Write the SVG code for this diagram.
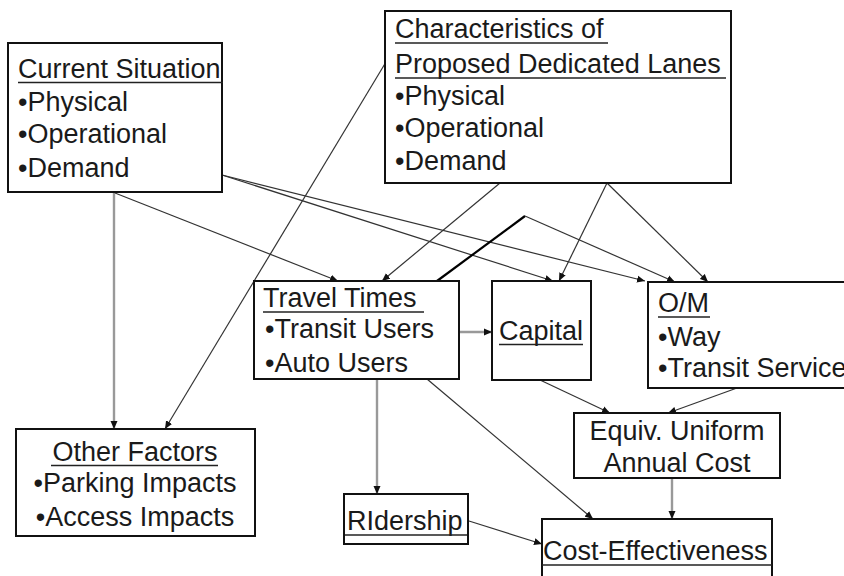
<svg xmlns="http://www.w3.org/2000/svg" width="844" height="576" viewBox="0 0 844 576">
<style>
text{font-family:"Liberation Sans",Arial,sans-serif;font-size:27px;fill:#1a1a1a}
.box{fill:#fff;stroke:#111;stroke-width:2}
.ul{stroke:#222;stroke-width:1.6}
.c{fill:none;stroke:#333;stroke-width:1.2}
.g{fill:none;stroke:#999;stroke-width:2.4}
.mid{text-anchor:middle}
</style>
<defs>
<marker id="ah" viewBox="0 0 8 8" refX="8" refY="4" markerWidth="8" markerHeight="8" orient="auto" markerUnits="userSpaceOnUse"><path d="M0,0.5 L8,4 L0,7.5 z" fill="#111"/></marker>
</defs>
<g id="connectors">
<line class="g" x1="114" y1="192" x2="114" y2="429" marker-end="url(#ah)"/>
<line class="c" x1="386" y1="62" x2="165" y2="429" marker-end="url(#ah)"/>
<line class="c" x1="115" y1="193" x2="338" y2="281" marker-end="url(#ah)"/>
<line class="c" x1="222" y1="175" x2="553" y2="281" marker-end="url(#ah)"/>
<line class="c" x1="222" y1="175" x2="645" y2="281" marker-end="url(#ah)"/>
<line class="c" x1="500" y1="183" x2="382" y2="281" marker-end="url(#ah)"/>
<line class="c" x1="607" y1="183" x2="559" y2="281" marker-end="url(#ah)"/>
<line class="c" x1="607" y1="183" x2="708" y2="282" marker-end="url(#ah)"/>
<line x1="437" y1="281" x2="525" y2="216" stroke="#000" stroke-width="2.2"/>
<line class="c" x1="525" y1="216" x2="675" y2="282" marker-end="url(#ah)"/>
<line class="g" x1="459" y1="332" x2="492" y2="332" marker-end="url(#ah)"/>
<line class="g" x1="377" y1="379" x2="377" y2="494" marker-end="url(#ah)"/>
<line class="c" x1="427" y1="379" x2="593" y2="519" marker-end="url(#ah)"/>
<line class="c" x1="469" y1="521" x2="542" y2="544" marker-end="url(#ah)"/>
<line class="c" x1="540" y1="380" x2="610" y2="413" marker-end="url(#ah)"/>
<line class="c" x1="737" y1="388" x2="668" y2="413" marker-end="url(#ah)"/>
<line class="g" x1="672" y1="478" x2="672" y2="519" marker-end="url(#ah)"/>
</g>
<g id="current">
<rect class="box" x="8" y="43" width="214" height="149"/>
<text x="18" y="78">Current Situation</text>
<line class="ul" x1="18" y1="82.5" x2="223" y2="82.5"/>
<text x="18" y="111">•Physical</text>
<text x="18" y="143">•Operational</text>
<text x="18" y="177">•Demand</text>
</g>
<g id="characteristics">
<rect class="box" x="385" y="11" width="346" height="172"/>
<text x="395" y="38">Characteristics of</text>
<line class="ul" x1="395" y1="43" x2="608" y2="43"/>
<text x="395" y="73">Proposed Dedicated Lanes</text>
<line class="ul" x1="395" y1="78" x2="726" y2="78"/>
<text x="395" y="105">•Physical</text>
<text x="395" y="137">•Operational</text>
<text x="395" y="170">•Demand</text>
</g>
<g id="travel">
<rect class="box" x="254" y="281" width="205" height="98"/>
<text x="263" y="307">Travel Times</text>
<line class="ul" x1="263" y1="312" x2="424" y2="312"/>
<text x="265" y="338">•Transit Users</text>
<text x="265" y="372">•Auto Users</text>
</g>
<g id="capital">
<rect class="box" x="492" y="281" width="99" height="99"/>
<text x="499" y="340">Capital</text>
<line class="ul" x1="499" y1="344.5" x2="583" y2="344.5"/>
</g>
<g id="om">
<rect class="box" x="648" y="282" width="210" height="106"/>
<text x="658" y="312">O/M</text>
<line class="ul" x1="658" y1="317" x2="710" y2="317"/>
<text x="658" y="346">•Way</text>
<text x="658" y="377">•Transit Service</text>
</g>
<g id="other">
<rect class="box" x="16" y="429" width="239" height="107"/>
<text class="mid" x="135" y="461">Other Factors</text>
<line class="ul" x1="51" y1="465.5" x2="218" y2="465.5"/>
<text class="mid" x="135" y="492">•Parking Impacts</text>
<text class="mid" x="135" y="526">•Access Impacts</text>
</g>
<g id="equiv">
<rect class="box" x="574" y="413" width="206" height="65"/>
<text class="mid" x="677" y="440">Equiv. Uniform</text>
<text class="mid" x="677" y="472">Annual Cost</text>
</g>
<g id="ridership">
<rect class="box" x="344" y="494" width="124" height="50"/>
<text x="347" y="530">RIdership</text>
<line class="ul" x1="345" y1="535" x2="467" y2="535"/>
</g>
<g id="costeff">
<rect class="box" x="542" y="519" width="230" height="70"/>
<text x="543" y="560">Cost-Effectiveness</text>
<line class="ul" x1="542" y1="565" x2="772" y2="565"/>
</g>
</svg>
